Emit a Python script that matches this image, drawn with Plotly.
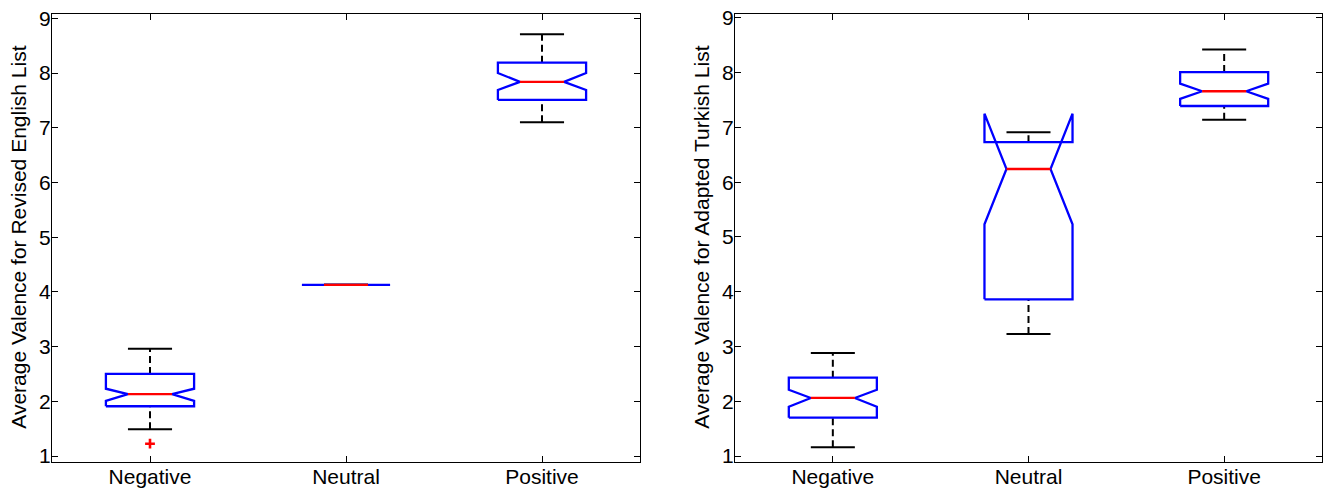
import plotly.graph_objects as go

categories = ["Negative", "Neutral", "Positive"]
y_ticks = [1, 2, 3, 4, 5, 6, 7, 8, 9]

# Revised English list (left)
eng_q1 = [1.91, 4.13, 7.51]
eng_med = [2.13, 4.13, 7.84]
eng_q3 = [2.50, 4.13, 8.19]
eng_lo = [1.49, 4.13, 7.10]
eng_hi = [2.96, 4.13, 8.71]
eng_nlo = [2.01, 4.13, 7.69]
eng_nhi = [2.23, 4.13, 8.00]
eng_out_cat = ["Negative"]
eng_out_val = [1.225]

# Adapted Turkish list (right)
tur_q1 = [1.70, 3.86, 7.39]
tur_med = [2.06, 6.24, 7.66]
tur_q3 = [2.43, 6.73, 8.01]
tur_lo = [1.16, 3.23, 7.14]
tur_hi = [2.88, 6.91, 8.42]
tur_nlo = [1.90, 5.23, 7.52]
tur_nhi = [2.21, 7.25, 7.80]
tur_out_cat = []
tur_out_val = []

W = 0.225  # half box width (style)
BLUE = "#0000FF"
RED = "#FF0000"
FONT = "Arial, Liberation Sans, sans-serif"

fig = go.Figure()


def add_boxes(q1, med, q3, lo, hi, nlo, nhi, out_cat, out_val, xa, ya):
    for i, cat in enumerate(categories):
        x = i + 1
        for a, b in ((q3[i], hi[i]), (lo[i], q1[i])):
            fig.add_trace(go.Scatter(x=[x, x], y=[a, b], mode="lines",
                                     line=dict(color="black", width=2, dash="7px,4px"),
                                     xaxis=xa, yaxis=ya, hoverinfo="skip"))
        for v in (hi[i], lo[i]):
            fig.add_trace(go.Scatter(x=[x - W / 2, x + W / 2], y=[v, v], mode="lines",
                                     line=dict(color="black", width=2),
                                     xaxis=xa, yaxis=ya, hoverinfo="skip"))
        bx = [x - W, x - W, x - W / 2, x - W, x - W, x + W, x + W, x + W / 2, x + W, x + W, x - W]
        by = [q1[i], nlo[i], med[i], nhi[i], q3[i], q3[i], nhi[i], med[i], nlo[i], q1[i], q1[i]]
        fig.add_trace(go.Scatter(x=bx, y=by, mode="lines",
                                 line=dict(color=BLUE, width=2.3),
                                 xaxis=xa, yaxis=ya, hoverinfo="skip"))
        fig.add_trace(go.Scatter(x=[x - W / 2, x + W / 2], y=[med[i], med[i]], mode="lines",
                                 line=dict(color=RED, width=2.3),
                                 xaxis=xa, yaxis=ya, hoverinfo="skip"))
    if out_val:
        fig.add_trace(go.Scatter(x=[categories.index(c) + 1 for c in out_cat], y=out_val,
                                 mode="markers",
                                 marker=dict(symbol="cross-thin", size=7, color=RED,
                                             line=dict(color=RED, width=2.6)),
                                 xaxis=xa, yaxis=ya, hoverinfo="skip"))


add_boxes(eng_q1, eng_med, eng_q3, eng_lo, eng_hi, eng_nlo, eng_nhi,
          eng_out_cat, eng_out_val, "x", "y")
add_boxes(tur_q1, tur_med, tur_q3, tur_lo, tur_hi, tur_nlo, tur_nhi,
          tur_out_cat, tur_out_val, "x2", "y2")

H = 488
Wpx = 1326
ydom = [1 - 461.5 / H, 1 - 14 / H]

axis_common = dict(showline=True, linecolor="black", linewidth=1, mirror="ticks",
                   ticks="inside", ticklen=6, tickwidth=1, tickcolor="black",
                   showgrid=False, zeroline=False, automargin=False,
                   tickfont=dict(family=FONT, size=21, color="black"))

fig.update_layout(
    width=Wpx, height=H,
    margin=dict(l=0, r=0, t=0, b=0, pad=0),
    paper_bgcolor="white", plot_bgcolor="white",
    showlegend=False,
    xaxis=dict(domain=[52 / Wpx, 640 / Wpx], range=[0.5, 3.5],
               tickvals=[1, 2, 3], ticktext=categories, anchor="y",
               ticklabelstandoff=-4, **axis_common),
    yaxis=dict(domain=ydom, range=[0.9, 9.08], tickvals=y_ticks, anchor="x",
               ticklabelstandoff=-4, **axis_common),
    xaxis2=dict(domain=[735 / Wpx, 1322 / Wpx], range=[0.5, 3.5],
                tickvals=[1, 2, 3], ticktext=categories, anchor="y2",
                ticklabelstandoff=-4, **axis_common),
    yaxis2=dict(domain=ydom, range=[0.9, 9.07], tickvals=y_ticks, anchor="x2",
                ticklabelstandoff=-4, **axis_common),
    annotations=[
        dict(text="Average Valence for Revised English List", x=19 / Wpx, y=sum(ydom) / 2,
             xref="paper", yref="paper", xanchor="center", yanchor="middle",
             textangle=-90, showarrow=False,
             font=dict(family=FONT, size=21, color="black")),
        dict(text="Average Valence for Adapted Turkish List", x=702 / Wpx, y=sum(ydom) / 2,
             xref="paper", yref="paper", xanchor="center", yanchor="middle",
             textangle=-90, showarrow=False,
             font=dict(family=FONT, size=21, color="black")),
    ],
)

fig.write_html("out.html", config={"displayModeBar": False},
               post_script="document.body.style.margin='0';document.body.style.overflow='hidden';")
